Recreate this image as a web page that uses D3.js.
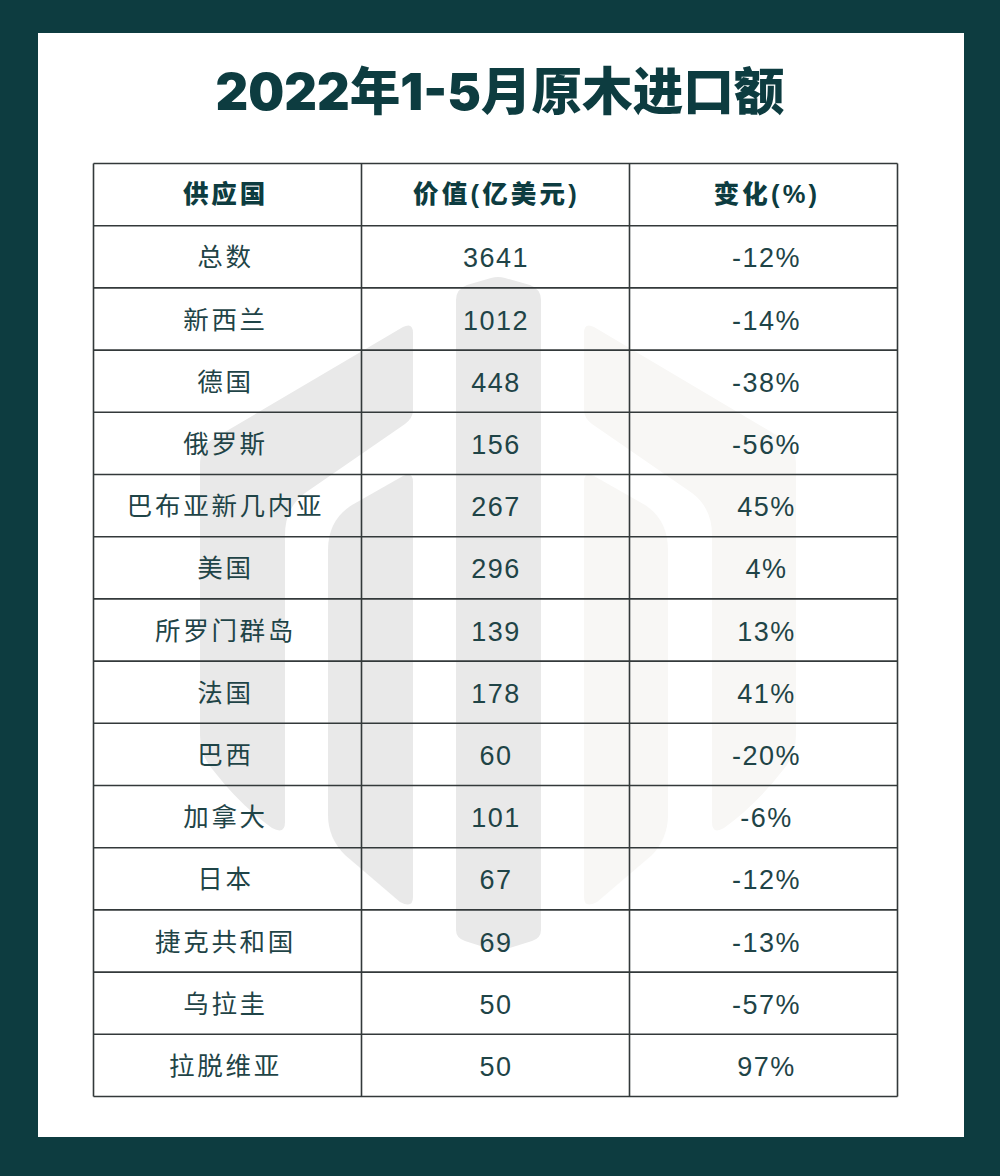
<!DOCTYPE html>
<html lang="zh">
<head>
<meta charset="utf-8">
<title>2022年1-5月原木进口额</title>
<style>
  html, body { margin: 0; padding: 0; background: #0d3c40; }
  svg { display: block; }
  text { font-family: "Liberation Sans", "Noto Sans CJK SC", sans-serif; text-anchor: middle; }
  .title { font-family: "Inter", "Noto Sans CJK SC", sans-serif; }
</style>
</head>
<body>
<svg width="1000" height="1176"></svg>
<script src="https://cdn.jsdelivr.net/npm/d3@7"></script>
<script>
const title = "2022年1-5月原木进口额"
const headers = ["供应国", "价值(亿美元)", "变化(%)"]
const countries = ["总数", "新西兰", "德国", "俄罗斯", "巴布亚新几内亚", "美国", "所罗门群岛", "法国", "巴西", "加拿大", "日本", "捷克共和国", "乌拉圭", "拉脱维亚"]
const values = [3641, 1012, 448, 156, 267, 296, 139, 178, 60, 101, 67, 69, 50, 50]
const changes = [-12, -14, -38, -56, 45, 4, 13, 41, -20, -6, -12, -13, -57, 97]

const dark = "#0d3c40", ink = "#1f4447", rule = "#33393a"
const svg = d3.select("svg")

// white card
svg.append("rect").attr("x", 38).attr("y", 33).attr("width", 926).attr("height", 1104).attr("fill", "#fff")

// watermark logo behind the table
const logo = svg.append("g")
const darkShapes = [
  "M541 300 Q541 289 530 285 L505 278 Q498 276 491 278 L467 285 Q456 289 456 300 L456 930 Q456 938 465 941 L490 949 Q498 951 506 949 L532 941 Q541 938 541 930 Z",
  "M413 333 Q413 322 403 327 L213 439 Q200 447 200 465 L200 735 Q200 755 213 770 Q240 805 272 828 Q285 835 285 822 L285 535 Q285 508 305 493 L405 424 Q413 418 413 410 Z",
  "M413 482 Q413 471 403 476 L352 505 Q328 520 328 550 L328 815 Q328 838 345 855 L400 902 Q413 909 413 897 Z"
]
const lightShapes = [
  "M584 333 Q584 322 594 327 L783 439 Q796 447 796 465 L796 735 Q796 755 783 770 Q756 805 724 828 Q712 835 712 822 L712 535 Q712 508 692 493 L592 424 Q584 418 584 410 Z",
  "M584 482 Q584 471 594 476 L645 505 Q668 520 668 550 L668 815 Q668 838 652 855 L597 902 Q584 909 584 897 Z"
]
logo.selectAll("path.d").data(darkShapes).join("path").attr("class", "d").attr("d", d => d).attr("fill", "#e9e9e9")
logo.selectAll("path.l").data(lightShapes).join("path").attr("class", "l").attr("d", d => d).attr("fill", "#f8f7f5")

svg.append("text").text(title)
    .attr("class", "title")
    .attr("x", 500).attr("y", 110)
    .style("font-size", "50.6px")
    .style("font-weight", 900)
    .style("fill", dark)

// table grid
const rows = ["header"].concat(countries)
const x = d3.scaleBand().domain(d3.range(3)).range([93.5, 897.5])
const y = d3.scaleBand().domain(rows).range([163.5, 1096.5])

const grid = svg.append("g").attr("stroke", rule).attr("stroke-width", 1.6)
grid.selectAll("line.h").data(d3.range(rows.length + 1)).join("line").attr("class", "h")
    .attr("x1", x.range()[0]).attr("x2", x.range()[1])
    .attr("y1", i => y.range()[0] + i * y.step()).attr("y2", i => y.range()[0] + i * y.step())
grid.selectAll("line.v").data(d3.range(4)).join("line").attr("class", "v")
    .attr("y1", y.range()[0]).attr("y2", y.range()[1])
    .attr("x1", i => x.range()[0] + i * x.step()).attr("x2", i => x.range()[0] + i * x.step())

// text in the first and last column sits a little off the cell centre
const nudge = [-2, 0.5, 3]
const cx = i => x(i) + x.bandwidth() / 2 + nudge[i]

headers.forEach((h, i) => {
  svg.append("text").text(h)
      .attr("x", cx(i) + (i == 0 ? 0 : 0.5)).attr("y", y("header") + y.bandwidth() / 2 + 8.5)
      .style("font-size", "25.5px")
      .style("font-weight", 900)
      .style("letter-spacing", i == 0 ? "2.8px" : "3.2px")
      .style("fill", dark)
})

const cols = [countries, values, changes.map(d => d + "%")]
cols.forEach((col, i) => {
  svg.selectAll("text.c" + i).data(col).join("text").attr("class", "c" + i)
      .text(d => d)
      .attr("x", cx(i))
      .attr("y", (d, j) => y(countries[j]) + y.bandwidth() / 2 + (i == 0 ? 9.5 : 10.5))
      .style("font-size", i == 0 ? "25.5px" : "27px")
      .style("font-weight", 400)
      .style("letter-spacing", i == 0 ? "2.7px" : "1.5px")
      .style("fill", ink)
})
</script>
</body>
</html>
